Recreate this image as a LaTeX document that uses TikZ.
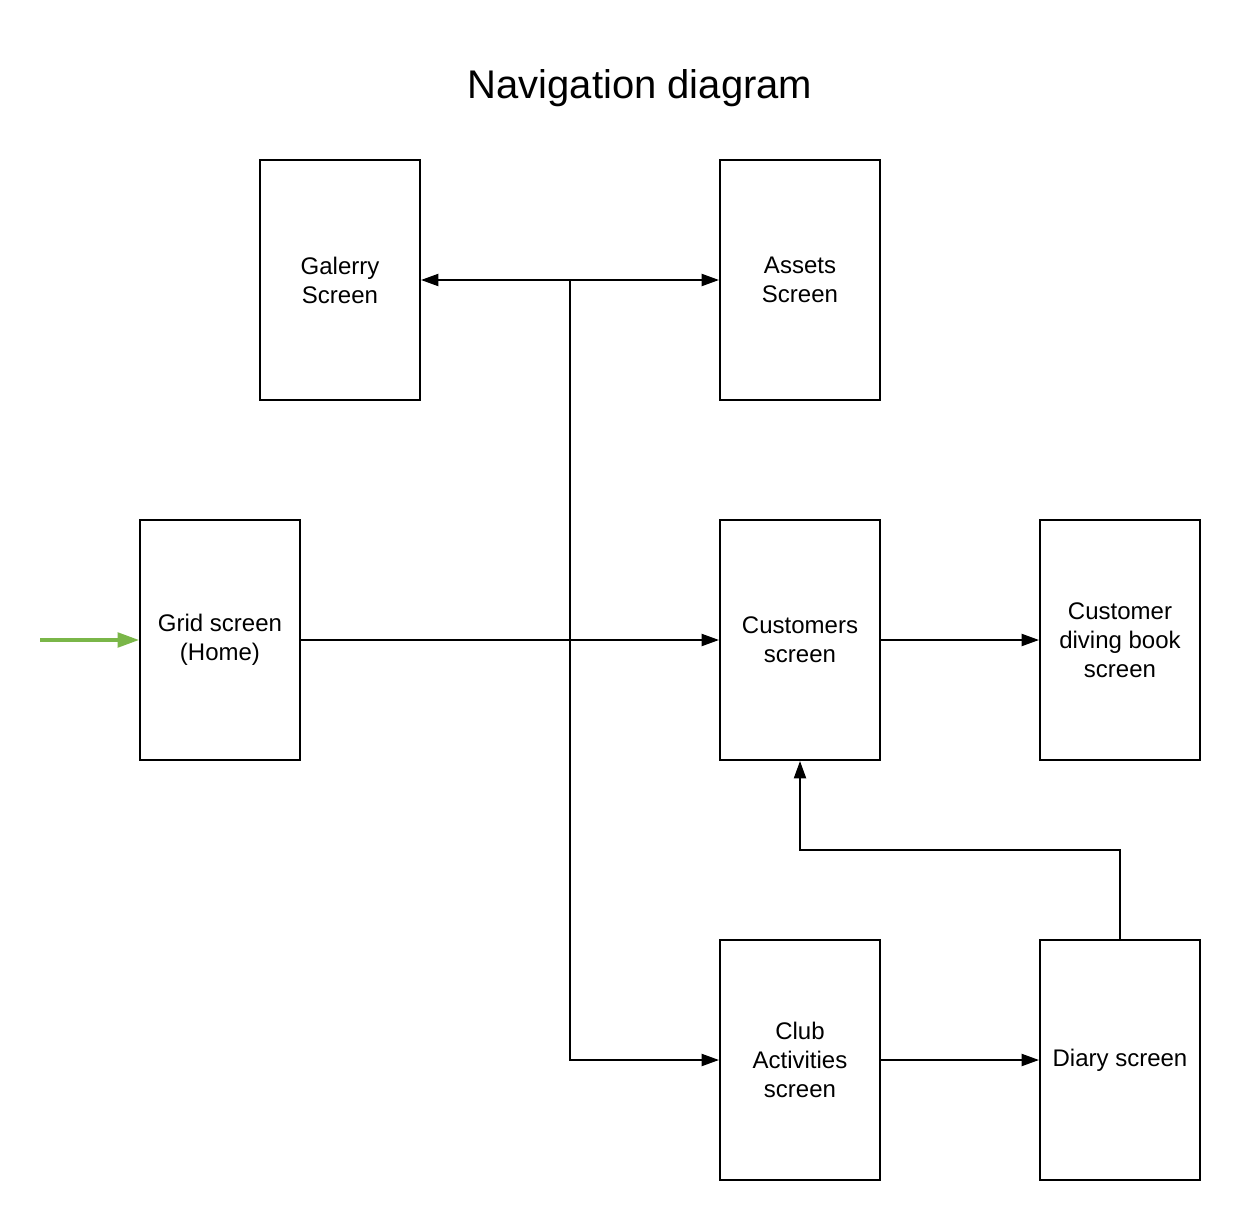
\documentclass[tikz,border=0pt]{standalone}
\usepackage{fontspec}
\setmainfont{Liberation Sans}
\usetikzlibrary{arrows.meta}
\definecolor{lgreen}{HTML}{7AB648}
\tikzset{
  screen/.style={draw=black, line width=1.5pt, minimum width=120pt, minimum height=180pt, inner sep=0pt, align=center, font=\fontsize{18}{21.75}\selectfont},
  conn/.style={line width=1.5pt, -{Triangle[length=13pt,width=9pt]}},
  biconn/.style={line width=1.5pt, {Triangle[length=13pt,width=9pt]}-{Triangle[length=13pt,width=9pt]}},
  entry/.style={line width=2.3pt, draw=lgreen, -{Triangle[length=16pt,width=11pt]}, color=lgreen}
}
\begin{document}
\begin{tikzpicture}[x=0.75pt,y=-0.75pt]
\useasboundingbox (0,0) rectangle (1240,1220);
\node[font=\fontsize{30}{36}\selectfont] (title) at (640,88) {Navigation diagram};
\node[screen] (gal) at (340,280) {Galerry\\Screen};
\node[screen] (assets) at (800,280) {Assets\\Screen};
\node[screen] (grid) at (220,640) {Grid screen\\(Home)};
\node[screen] (cust) at (800,640) {Customers\\screen};
\node[screen] (book) at (1120,640) {Customer\\diving book\\screen};
\node[screen] (club) at (800,1060) {Club\\Activities\\screen};
\node[screen] (diary) at (1120,1060) {Diary screen};
\coordinate (start) at (40,640);
\coordinate (j) at (570,280);
\coordinate (bend) at (800,850);
\draw[biconn] (gal.east) -- (assets.west);
\draw[conn] (j) |- (club.west);
\draw[conn] (grid.east) -- (cust.west);
\draw[conn] (cust.east) -- (book.west);
\draw[conn] (club.east) -- (diary.west);
\draw[conn] (diary.north) |- (bend) -- (cust.south);
\draw[entry] (start) -- (grid.west);
\end{tikzpicture}
\end{document}
